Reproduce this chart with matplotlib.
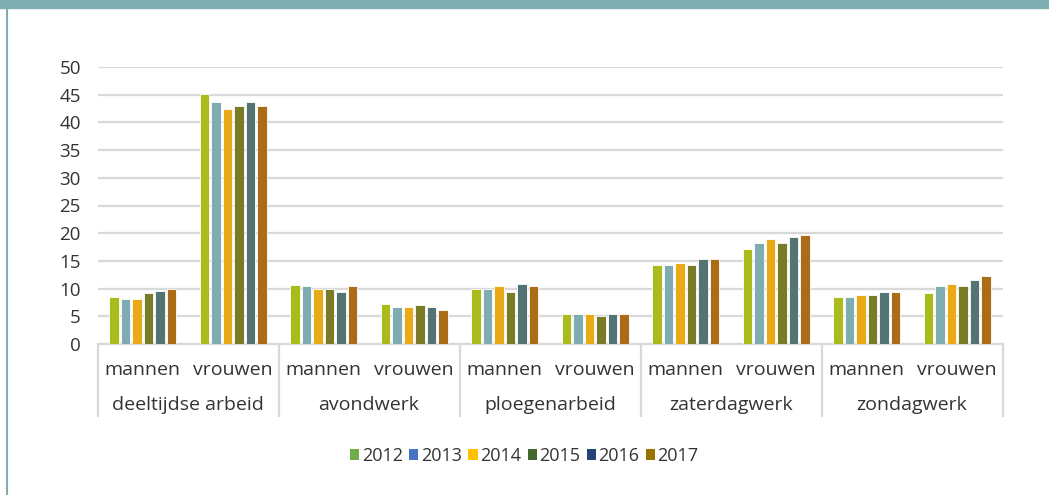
import matplotlib
matplotlib.use('Agg')
import matplotlib.pyplot as plt
from matplotlib.patches import Patch
import numpy as np

plt.rcParams['font.family'] = ['Open Sans', 'DejaVu Sans']

groups = ['deeltijdse arbeid', 'avondwerk', 'ploegenarbeid', 'zaterdagwerk', 'zondagwerk']
sexes = ['mannen', 'vrouwen']
years = ['2012', '2013', '2014', '2015', '2016', '2017']

# one list per year, order: (group, sex) pairs
v2012 = [8.5, 45.1, 10.7, 7.3, 10.0, 5.4, 14.2, 17.2, 8.5, 9.2]
v2013 = [8.1, 43.6, 10.4, 6.6, 10.0, 5.4, 14.2, 18.3, 8.5, 10.4]
v2014 = [8.1, 42.5, 10.0, 6.6, 10.4, 5.4, 14.6, 19.0, 8.9, 10.8]
v2015 = [9.2, 42.9, 10.0, 7.0, 9.3, 5.1, 14.2, 18.3, 8.9, 10.4]
v2016 = [9.6, 43.6, 9.3, 6.6, 10.8, 5.4, 15.4, 19.4, 9.3, 11.5]
v2017 = [10.0, 42.9, 10.4, 6.2, 10.4, 5.4, 15.4, 19.7, 9.3, 12.2]
values = [v2012, v2013, v2014, v2015, v2016, v2017]

bar_colors = ['#A9BC1C', '#7FACB0', '#EAA917', '#7A7B27', '#537472', '#AB6B17']
legend_colors = ['#70AD47', '#4472C4', '#FFC000', '#43682B', '#264478', '#997300']

text_col = '#333333'
grid_col = '#D9D9D9'
frame_col = '#7FAEB0'

fig = plt.figure(figsize=(10.49, 4.95), dpi=100)
ax = fig.add_axes([97.5 / 1049, 1 - 344 / 495, 905 / 1049, 277 / 495])

n = len(groups) * len(sexes)
x = np.arange(n)
slot = 0.127
bw = 0.105
for i, vals in enumerate(values):
    ax.bar(x + (i - 2.5) * slot, vals, width=bw, color=bar_colors[i],
           edgecolor='white', linewidth=0.6, zorder=3)

ax.set_xlim(-0.5, n - 0.5)
ax.set_ylim(0, 50)
ax.set_yticks(range(0, 51, 5))
ax.yaxis.grid(True, color=grid_col, linewidth=1.6, zorder=0)
ax.tick_params(axis='y', length=0, pad=12, labelsize=13.5, labelcolor=text_col)
ax.set_xticks([])
for s in ['top', 'right', 'left']:
    ax.spines[s].set_visible(False)
ax.spines['bottom'].set_color(grid_col)
ax.spines['bottom'].set_linewidth(1.6)

# two-level category axis
trans = ax.get_xaxis_transform()
for g in range(len(groups) + 1):
    ax.plot([2 * g - 0.5, 2 * g - 0.5], [0, -72 / 277], transform=trans,
            color=grid_col, linewidth=1.6, clip_on=False)
for i, lab in enumerate(sexes * len(groups)):
    ax.text(x[i], -26 / 277, lab, transform=trans, ha='center',
            va='center', fontsize=14, color=text_col)
for g, name in enumerate(groups):
    ax.text(2 * g + 0.5, -61 / 277, name, transform=trans, ha='center',
            va='center', fontsize=14, color=text_col)

handles = [Patch(facecolor=c, edgecolor='none') for c in legend_colors]
fig.legend(handles, years, loc='center', bbox_to_anchor=(0.5, 1 - 456 / 495),
           ncol=6, frameon=False, fontsize=13, handlelength=0.5,
           handleheight=0.5, handletextpad=0.15, columnspacing=0.35,
           labelcolor=text_col)

# teal frame: top band and left border
fig.patches.append(plt.Rectangle((0, 1 - 8 / 495), 1, 8 / 495,
                                 transform=fig.transFigure, color=frame_col))
fig.add_artist(plt.Line2D([7 / 1049, 7 / 1049], [0, 1], transform=fig.transFigure,
                          color=frame_col, linewidth=1.5))

fig.savefig('out.png', dpi=100)
